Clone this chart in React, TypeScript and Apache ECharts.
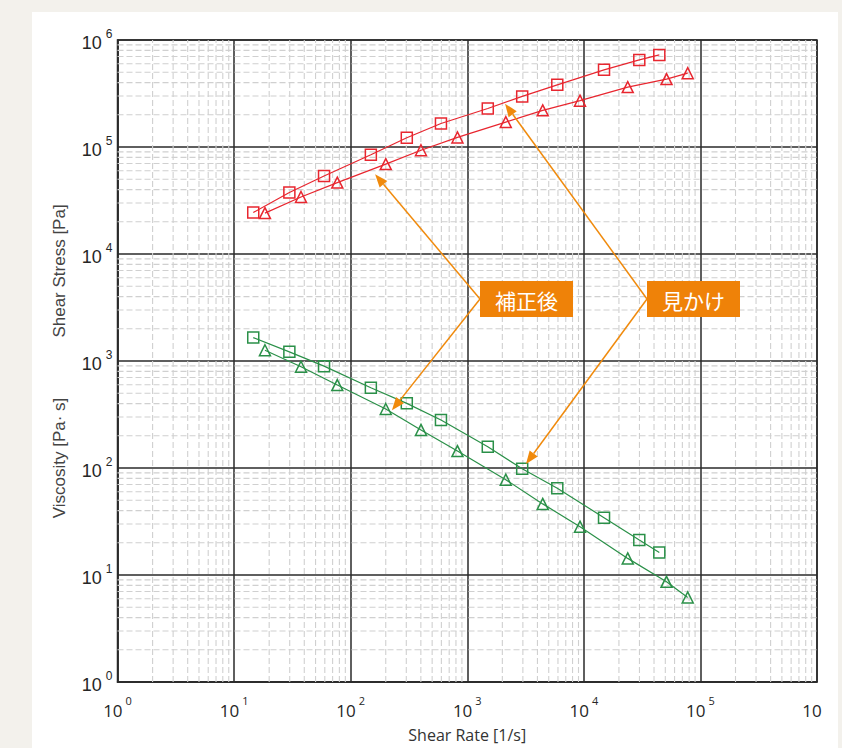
import React, { useEffect, useRef } from "react";
import * as echarts from "echarts";

// Shear rate [1/s]
const rateApparent = [14.6, 29.8, 59.1, 149, 303, 595, 1500, 2960, 5920, 14900, 29900, 44400];
const rateCorrected = [18.4, 37.5, 76.8, 200, 401, 824, 2140, 4440, 9270, 23800, 51200, 77800];
// Shear stress [Pa]
const stressApparent = [24400, 37500, 53500, 84600, 122000, 166000, 229000, 297000, 381000, 526000, 651000, 725000];
const stressCorrected = [24100, 34100, 46500, 69200, 93300, 123000, 171000, 220000, 271000, 363000, 431000, 490000];
// Viscosity [Pa·s]
const viscApparent = [1655, 1218, 895, 563, 402, 281, 158, 98.4, 64.7, 34.3, 21.2, 16.2];
const viscCorrected = [1260, 883, 596, 356, 227, 144, 77.8, 46.2, 28.3, 14.3, 8.64, 6.17];

const decades = [0, 1, 2, 3, 4, 5];
const minorSteps = [2, 3, 4, 5, 6, 7, 8, 9];

// annotation labels and arrow targets (data coordinates)
const labelCorrected = "補正後";
const labelApparent = "見かけ";
const targetsCorrected = [[162, 55500], [226, 346]];
const targetsApparent = [[2110, 254000], [3190, 109]];

const RED = "#e8262f";
const GREEN = "#2a9048";
const ORANGE = "#f08a0c";

const minorValues: number[] = [];
decades.forEach((d) => minorSteps.forEach((m) => minorValues.push(m * Math.pow(10, d))));

const zip = (a: number[], b: number[]) => a.map((v, i) => [v, b[i]]);

export default function App() {
  const ref = useRef<HTMLDivElement>(null);
  useEffect(() => {
    if (!ref.current) return;
    const chart = echarts.init(ref.current, null, { renderer: "svg" });

    const minorStyle = { stroke: "#d0d0d0", lineWidth: 1.1, lineDash: [6, 3] };

    const seriesStyle = (color: string, symbol: string, size: number, data: number[][], name: string) => ({
      type: "line",
      name,
      data,
      symbol,
      symbolSize: size,
      showSymbol: true,
      z: 5,
      lineStyle: { color, width: 1.2 },
      itemStyle: { color: "rgba(255,255,255,0)", borderColor: color, borderWidth: 1.5 },
      emphasis: { disabled: true },
    });

    const option: any = {
      animation: false,
      backgroundColor: "transparent",
      grid: {
        left: 117.5,
        right: 25,
        top: 40,
        bottom: 63,
        show: true,
        borderColor: "#2a2a2a",
        borderWidth: 1.5,
        backgroundColor: "transparent",
      },
      xAxis: {
        type: "log",
        logBase: 10,
        min: 1,
        max: 1e6,
        splitNumber: 6,
        name: "Shear Rate [1/s]",
        nameLocation: "middle",
        nameGap: 45,
        nameTextStyle: { fontFamily: "Open Sans", fontSize: 16, color: "#333" },
        axisLine: { show: true, lineStyle: { color: "#2a2a2a", width: 1.5 } },
        axisTick: { show: false },
        splitLine: { show: true, lineStyle: { color: "#2a2a2a", width: 1.5 } },
        axisLabel: {
          margin: 13,
          formatter: (v: number) => {
            const e = Math.round(Math.log10(v));
            if (e === 6) return "{last|10}";
            return "{b|10}{s|" + e + "}";
          },
          rich: {
            b: { fontFamily: "Open Sans", fontSize: 17, color: "#262626", lineHeight: 24, verticalAlign: "bottom" },
            s: { fontFamily: "Open Sans", fontSize: 11, color: "#262626", lineHeight: 24, verticalAlign: "top", padding: [0, 0, 0, 3] },
            last: { fontFamily: "Open Sans", fontSize: 17, color: "#262626", lineHeight: 24, verticalAlign: "bottom", padding: [0, 10, 0, 0] },
          },
        },
      },
      yAxis: {
        type: "log",
        logBase: 10,
        min: 1,
        max: 1e6,
        splitNumber: 6,
        axisLine: { show: true, lineStyle: { color: "#2a2a2a", width: 1.5 } },
        axisTick: { show: false },
        splitLine: { show: true, lineStyle: { color: "#2a2a2a", width: 1.5 } },
        axisLabel: {
          margin: 5,
          formatter: (v: number) => "{b|10}{s|" + Math.round(Math.log10(v)) + "}",
          rich: {
            b: { fontFamily: "Liberation Sans", fontSize: 18, color: "#262626", lineHeight: 24, verticalAlign: "bottom" },
            s: { fontFamily: "Liberation Sans", fontSize: 12, color: "#262626", lineHeight: 24, verticalAlign: "top", padding: [0, 0, 0, 4] },
          },
        },
      },
      series: [
        {
          type: "custom",
          silent: true,
          z: 1,
          clip: true,
          data: minorValues.map((v) => [v, 1]),
          encode: { x: 0, y: 1 },
          renderItem: (_p: any, api: any) => {
            const v = api.value(0);
            const a = api.coord([v, 1]);
            const b = api.coord([v, 1e6]);
            return { type: "line", shape: { x1: a[0], y1: a[1], x2: b[0], y2: b[1] }, style: minorStyle };
          },
        },
        {
          type: "custom",
          silent: true,
          z: 1,
          clip: true,
          data: minorValues.map((v) => [1, v]),
          encode: { x: 0, y: 1 },
          renderItem: (_p: any, api: any) => {
            const v = api.value(1);
            const a = api.coord([1, v]);
            const b = api.coord([1e6, v]);
            return { type: "line", shape: { x1: a[0], y1: a[1], x2: b[0], y2: b[1] }, style: minorStyle };
          },
        },
        seriesStyle(RED, "rect", 11, zip(rateApparent, stressApparent), "Shear Stress (apparent)"),
        seriesStyle(RED, "triangle", 11, zip(rateCorrected, stressCorrected), "Shear Stress (corrected)"),
        seriesStyle(GREEN, "rect", 11, zip(rateApparent, viscApparent), "Viscosity (apparent)"),
        seriesStyle(GREEN, "triangle", 11, zip(rateCorrected, viscCorrected), "Viscosity (corrected)"),
      ],
    };

    chart.setOption(option);

    const toPx = (p: number[]) => chart.convertToPixel({ xAxisIndex: 0, yAxisIndex: 0 }, p) as number[];

    const boxW = 93;
    const boxH = 36;
    const boxY = 281;
    const boxes = [
      { x: 480, label: labelCorrected, targets: targetsCorrected },
      { x: 647, label: labelApparent, targets: targetsApparent },
    ];

    const elements: any[] = [
      {
        type: "text",
        rotation: Math.PI / 2,
        x: 59,
        y: 271,
        style: { text: "Shear Stress [Pa]", font: "17px 'Liberation Sans'", fill: "#444", align: "center", verticalAlign: "middle" },
      },
      {
        type: "text",
        rotation: Math.PI / 2,
        x: 59,
        y: 458,
        style: { text: "Viscosity [Pa· s]", font: "17px 'Liberation Sans'", fill: "#444", align: "center", verticalAlign: "middle" },
      },
    ];

    boxes.forEach((bx) => {
      const vx = bx.x;
      const vy = boxY + boxH / 2;
      bx.targets.forEach((t) => {
        const tip = toPx(t);
        const dx = tip[0] - vx;
        const dy = tip[1] - vy;
        const len = Math.sqrt(dx * dx + dy * dy);
        const ux = dx / len;
        const uy = dy / len;
        const L = 13;
        const W = 5;
        const bxp = tip[0] - ux * L;
        const byp = tip[1] - uy * L;
        elements.push({
          type: "line",
          shape: { x1: vx, y1: vy, x2: bxp, y2: byp },
          style: { stroke: ORANGE, lineWidth: 1.5 },
          z: 20,
        });
        elements.push({
          type: "polygon",
          shape: {
            points: [
              [tip[0], tip[1]],
              [bxp - uy * W, byp + ux * W],
              [bxp + uy * W, byp - ux * W],
            ],
          },
          style: { fill: ORANGE },
          z: 20,
        });
      });
      elements.push({
        type: "rect",
        shape: { x: bx.x, y: boxY, width: boxW, height: boxH },
        style: { fill: "#ef8208" },
        z: 21,
      });
      elements.push({
        type: "text",
        x: bx.x + boxW / 2,
        y: boxY + boxH / 2 + 1,
        style: {
          text: bx.label,
          font: "21px 'Noto Sans CJK JP'",
          fill: "#ffffff",
          align: "center",
          verticalAlign: "middle",
        },
        z: 22,
      });
    });

    chart.setOption({ graphic: { elements } });

    return () => chart.dispose();
  }, []);

  return (
    <div style={{ position: "fixed", left: 0, top: 0, width: 842, height: 748, background: "#f3f1ec", overflow: "hidden" }}>
      <div style={{ position: "absolute", left: 32, top: 12, width: 806, height: 736, background: "#ffffff" }} />
      <div ref={ref} style={{ position: "absolute", left: 0, top: 0, width: 842, height: 748 }} />
    </div>
  );
}
